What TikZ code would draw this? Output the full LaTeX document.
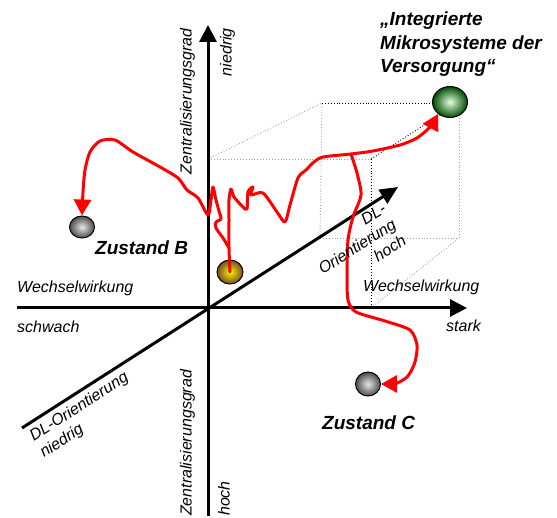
\documentclass[tikz,border=0pt]{standalone}
\usepackage{fontspec}
\setmainfont{Liberation Sans}
\usetikzlibrary{arrows.meta,shapes.geometric}

\tikzset{
  axis/.style={line width=3pt,-{Triangle[width=17pt,length=17pt]}},
  cubeback/.style={gray!75,dotted,line width=0.9pt},
  cubefront/.style={black,dotted,line width=0.9pt},
  redtrail/.style={red,line width=3pt,line join=round,line cap=round},
  redarrow/.style={redtrail,-{Triangle[width=17pt,length=16pt]}},
  ball/.style={ellipse,draw=black,line width=1pt,inner sep=0pt},
  lbl/.style={font=\fontsize{16}{19}\selectfont\itshape,inner sep=0pt},
  statelbl/.style={font=\fontsize{19}{23.5}\selectfont\bfseries\itshape,inner sep=0pt},
}

\begin{document}
\begin{tikzpicture}[x=1pt,y=-1pt]
\useasboundingbox (0,0) rectangle (557,518);

\def\ox{208}
\def\oy{308}

\coordinate (f1) at (\ox,\oy);
\coordinate (f2) at (371,308);
\coordinate (f3) at (371,159);
\coordinate (f4) at (\ox,159);
\coordinate (b1) at (320,238);
\coordinate (b2) at (459,238);
\coordinate (b3) at (459,103);
\coordinate (b4) at (322,103);

\draw[cubeback] (f4) -- (f3);
\draw[cubeback] (f4) -- (b4);
\draw[cubeback] (b1) -- (b4);
\draw[cubeback] (b1) -- (b2);
\draw[cubeback] (b2) -- (b3);
\draw[cubeback] (f2) -- (b2);
\draw[cubefront] (b4) -- (b3);
\draw[cubefront] (f3) -- (b3);
\draw[cubefront] (f3) -- (f2);

\coordinate (zlow) at (\ox,516);
\coordinate (zhigh) at (\ox,25);
\coordinate (wlow) at (17,\oy);
\coordinate (whigh) at (467,\oy);
\coordinate (dllow) at (22,428);
\coordinate (dlhigh) at (398,187);

\draw[axis] (zlow) -- (zhigh);
\draw[axis] (wlow) -- (whigh);
\draw[axis,-{Triangle[width=16pt,length=18pt]}] (dllow) -- (dlhigh);

\node[ball,minimum width=35pt,minimum height=31pt,shading=radial,inner color=green!12!white,outer color=green!30!black] (goal) at (450,102) {};
\node[ball,minimum width=25pt,minimum height=22pt,shading=radial,inner color=gray!20,outer color=gray!60!black] (stateB) at (82,227) {};
\node[ball,minimum width=26pt,minimum height=24pt,shading=radial,inner color=yellow!90!orange,outer color=brown!60!black] (start) at (230,272) {};
\node[ball,minimum width=25pt,minimum height=24pt,shading=radial,inner color=gray!20,outer color=gray!60!black] (stateC) at (368,384) {};

\coordinate (forkB) at (229,248);
\coordinate (forkC) at (351,154);

\draw[redarrow] plot[smooth,tension=0.45] coordinates {(start.center) (forkB) (229,220) (229,200) (231,189)
  (234,197) (243,207) (247,209) (248,192) (253,187) (251,195) (263,193) (277,212) (285,222) (290,205)
  (298,178) (306,170) (314,162) (323,157) (forkC) (373,151) (400,145) (417,138) (430,127) (goal.225)};
\draw[redarrow] plot[smooth,tension=0.45] coordinates {(forkB) (223,238) (216,228) (216,222) (221,219)
  (219,211) (216,200) (213,187) (211,200) (208,215) (198,198) (187,190) (178,178) (160,167) (133,152)
  (115,140) (100,141) (90,152) (85,170) (83,192) (stateB.north)};
\draw[redarrow] plot[smooth,tension=0.45] coordinates {(forkC) (357,173) (361,195) (353,217) (348,240)
  (347,273) (348,300) (356,312) (385,321) (410,330) (417,345) (415,362) (408,376) (397,383) (stateC.east)};

\node[statelbl,anchor=base west,align=left] (goaltxt) at (380,73) {„Integrierte\\Mikrosysteme der\\Versorgung“};
\node[statelbl,anchor=base west] (Btxt) at (95,255) {Zustand B};
\node[statelbl,anchor=base west] (Ctxt) at (322,430) {Zustand C};

\node[lbl,anchor=base west] (wwl) at (17,293) {Wechselwirkung};
\node[lbl,anchor=base west] (weak) at (17,333) {schwach};
\node[lbl,anchor=base west] (wwr) at (363,292) {Wechselwirkung};
\node[lbl,anchor=base west] (strong) at (446,332) {stark};

\node[lbl,anchor=base east,rotate=90] (zgtop) at (191.5,28) {Zentralisierungsgrad};
\node[lbl,anchor=base east,rotate=90] (zlowtxt) at (231.5,28) {niedrig};
\node[lbl,anchor=base west,rotate=90] (zgbot) at (191.5,516) {Zentralisierungsgrad};
\node[lbl,anchor=base west,rotate=90] (zhightxt) at (229.5,516) {hoch};

\node[lbl,anchor=base west,rotate=33,align=left] (dllowtxt) at (44,458) {DL-Orientierung\\niedrig};
\node[lbl,anchor=base west,rotate=32.5,align=right] (dlhightxt) at (333,291) {DL-\\Orientierung\\hoch};
\end{tikzpicture}
\end{document}
